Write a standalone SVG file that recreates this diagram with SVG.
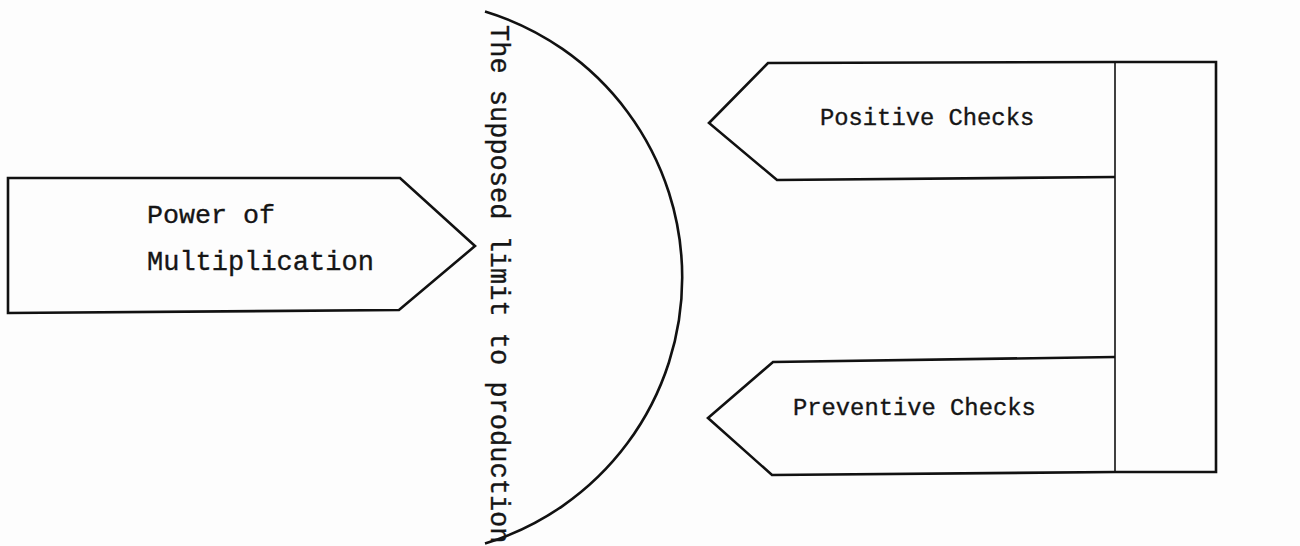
<svg xmlns="http://www.w3.org/2000/svg" width="1300" height="546" viewBox="0 0 1300 546">
<style>
.shape{fill:none;stroke:#111;stroke-width:2.6;stroke-linejoin:miter}
.thin{fill:none;stroke:#111;stroke-width:1.6}
.lbl{font-family:"Liberation Mono","Courier New",monospace;fill:#151515;stroke:#151515;stroke-width:0.35}
</style>
<rect width="1300" height="546" fill="#fdfdfd"/>
<g id="power">
<path class="shape" d="M8 178 L400 178 L475 246 L399 310 L8 313 Z"/>
<text class="lbl" x="147" y="223" font-size="26.7">Power of</text>
<text class="lbl" x="147" y="270" font-size="27">Multiplication</text>
</g>
<g id="limit">
<path class="shape" d="M485 11.5 A278 278 0 0 1 485 543.5"/>
<text class="lbl" transform="translate(491,25) rotate(90)" font-size="27">The supposed limit to production</text>
</g>
<g id="checks-frame">
<path class="shape" d="M1115 62 L1216 62 L1216 472 L1115 472"/>
<line class="thin" x1="1115" y1="62" x2="1115" y2="472"/>
</g>
<g id="positive">
<path class="shape" d="M1115 62 L768 63 L709 123 L777 180 L1115 177"/>
<text class="lbl" x="820" y="125" font-size="23.8">Positive Checks</text>
</g>
<g id="preventive">
<path class="shape" d="M1115 357 L773 362 L708 418 L772 475 L1115 472"/>
<text class="lbl" x="793" y="415" font-size="23.8">Preventive Checks</text>
</g>
<g id="connectors"></g>
</svg>
